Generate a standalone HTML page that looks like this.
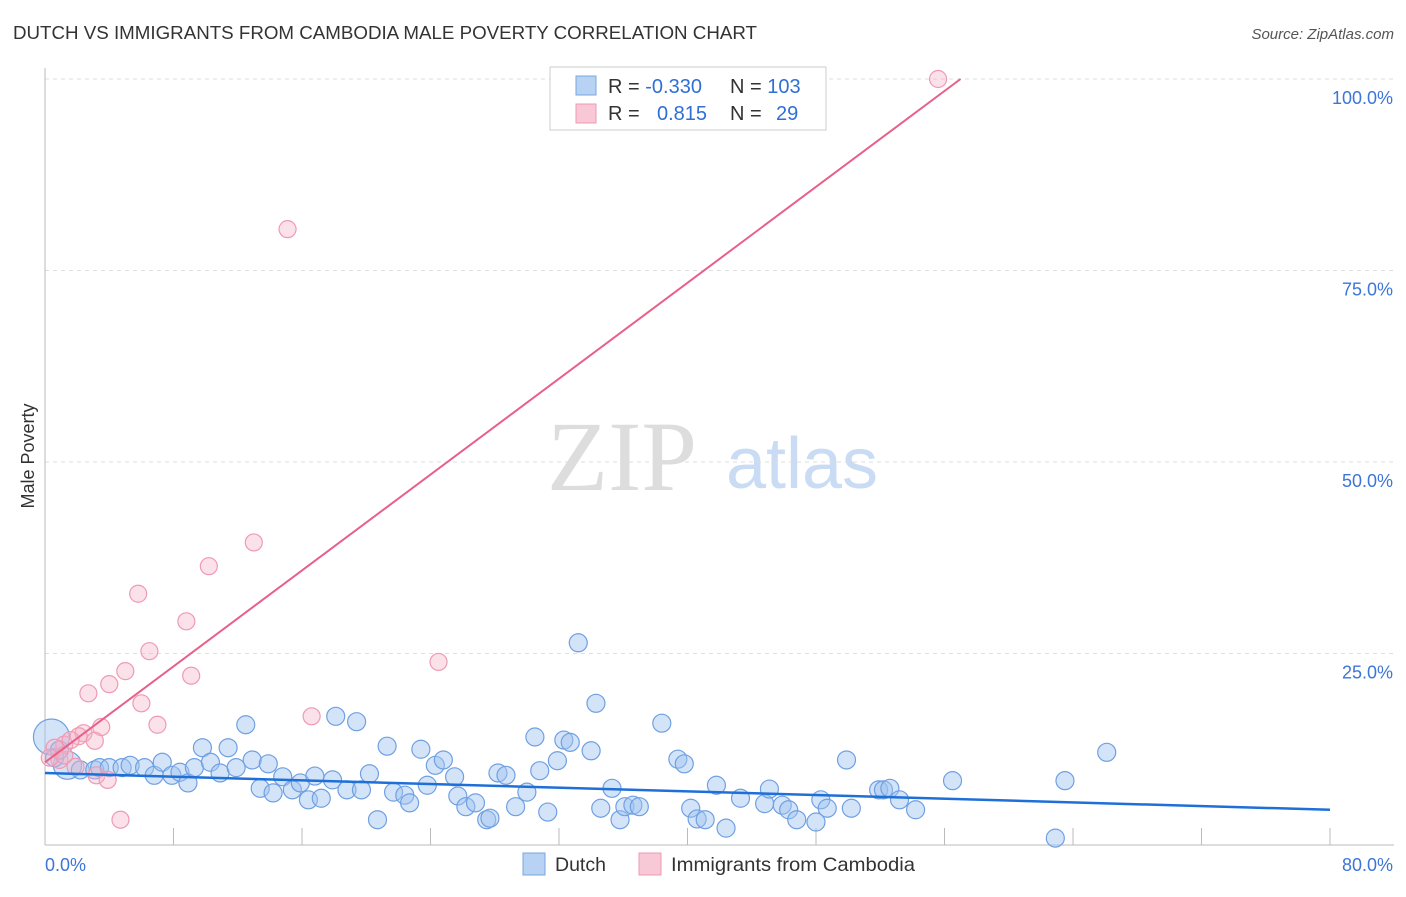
<!DOCTYPE html>
<html><head><meta charset="utf-8"><style>
body{margin:0;background:#fff;font-family:"Liberation Sans",sans-serif}
</style></head><body>
<svg id="chart" width="1406" height="892" viewBox="0 0 1406 892" xmlns="http://www.w3.org/2000/svg" font-family="Liberation Sans, sans-serif">
<text x="13" y="39" font-size="18" fill="#333" textLength="744" lengthAdjust="spacingAndGlyphs">DUTCH VS IMMIGRANTS FROM CAMBODIA MALE POVERTY CORRELATION CHART</text>
<text x="1394" y="39" font-size="15" fill="#555" text-anchor="end" font-style="italic">Source: ZipAtlas.com</text>
<text transform="translate(34,456) rotate(-90)" font-size="18" fill="#333" text-anchor="middle">Male Poverty</text>
<g>
<text x="622" y="490" font-size="100" fill="#ddd" text-anchor="middle" style="font-family:'Liberation Serif',serif">ZIP</text>
<text x="802" y="488" font-size="72" fill="#c9dcf3" text-anchor="middle">atlas</text>
</g>
<g id="grid"></g><g id="axes"></g><g id="marks"></g>
<g>
<rect x="550" y="67" width="276" height="63" fill="#fff" stroke="#ccc"/>
<rect x="576" y="76" width="20" height="19" fill="#b7d2f3" stroke="#7aa7e0"/>
<text x="608" y="93" font-size="20" fill="#333">R = <tspan fill="#2f6fd6">-0.330</tspan></text>
<text x="730" y="93" font-size="20" fill="#333">N = <tspan fill="#2f6fd6">103</tspan></text>
<rect x="576" y="104" width="20" height="19" fill="#f8c8d6" stroke="#ef9ab3"/>
<text x="608" y="120" font-size="20" fill="#333">R = </text><text x="657" y="120" font-size="20" fill="#2f6fd6">0.815</text>
<text x="730" y="120" font-size="20" fill="#333">N = </text><text x="776" y="120" font-size="20" fill="#2f6fd6">29</text>
</g>
<g>
<rect x="523" y="853" width="22" height="22" fill="#b7d2f3" stroke="#7aa7e0"/>
<text x="555" y="871" font-size="19.5" fill="#333">Dutch</text>
<rect x="639" y="853" width="22" height="22" fill="#f8c8d6" stroke="#ef9ab3"/>
<text x="671" y="871" font-size="19.5" fill="#333" textLength="244" lengthAdjust="spacingAndGlyphs">Immigrants from Cambodia</text>
</g>
</svg>
<script>
const blueX=[0.4,1.4,0.6,0.9,2.2,3.1,3.4,4.0,4.8,5.3,6.2,6.8,7.3,7.9,8.4,8.9,9.3,9.8,10.3,10.9,11.4,11.9,12.5,12.9,13.4,13.9,14.2,14.8,15.4,15.9,16.4,16.8,17.2,17.9,18.1,18.8,19.4,19.7,20.2,20.7,21.3,21.7,22.4,22.7,23.4,23.8,24.3,24.8,25.5,25.7,26.2,26.8,27.5,27.7,28.2,28.7,29.3,30.0,30.5,30.8,31.3,31.9,32.3,32.7,33.2,34.0,34.3,34.6,35.3,35.8,36.1,36.6,37.0,38.4,39.4,39.8,40.2,40.6,41.1,41.8,42.4,43.3,44.8,45.1,45.9,46.3,46.8,48.0,48.3,48.7,49.9,50.2,51.9,52.2,52.6,53.2,54.2,56.5,62.9,63.5,66.1];
const blueY=[14.1,10.4,11.4,12.4,9.8,9.8,10.1,10.1,10.1,10.4,10.1,9.1,10.8,9.1,9.5,8.1,10.1,12.7,10.8,9.4,12.7,10.1,15.7,11.1,7.4,10.6,6.8,8.9,7.2,8.1,5.9,9.0,6.1,8.5,16.8,7.2,16.1,7.2,9.3,3.3,12.9,6.9,6.5,5.5,12.5,7.8,10.4,11.1,8.9,6.4,5.0,5.5,3.3,3.5,9.4,9.1,5.0,6.9,14.1,9.7,4.3,11.0,13.7,13.4,26.4,12.3,18.5,4.8,7.4,3.3,5.0,5.2,5.0,15.9,11.2,10.6,4.8,3.4,3.3,7.8,2.2,6.1,5.4,7.3,5.2,4.6,3.3,3.0,5.9,4.8,11.1,4.8,7.2,7.2,7.4,5.9,4.6,8.4,0.9,8.4,12.1];
const pinkX=[55.6,15.1,13.0,10.2,5.8,8.8,6.5,5.0,9.1,4.0,2.7,6.0,16.6,7.0,3.5,2.4,2.1,3.1,1.2,1.6,0.6,0.9,1.9,3.2,3.9,4.7,24.5,0.3,1.2];
const pinkY=[100,80.4,39.5,36.4,32.8,29.2,25.3,22.7,22.1,21.0,19.8,18.5,16.8,15.7,15.4,14.6,14.2,13.6,13.1,13.7,12.7,11.1,10.2,9.1,8.5,3.3,23.9,11.4,11.7];
const blueTrend=[[0,9.4],[80,4.6]];
const pinkTrend=[[0,10.8],[57.0,100]];
const yTicks=[25,50,75,100];
const yTickLabels=["25.0%","50.0%","75.0%","100.0%"];
const xTicks=[0,8,16,24,32,40,48,56,64,72,80];
const NS="http://www.w3.org/2000/svg";
const xs=v=>45+v*1285/80, ys=v=>845-v*7.66;
function mk(p,t,a){const e=document.createElementNS(NS,t);for(const k in a)e.setAttribute(k,a[k]);p.appendChild(e);return e;}
const grid=document.getElementById('grid'),axes=document.getElementById('axes'),marks=document.getElementById('marks');
yTicks.forEach((v,i)=>{
 const l=mk(grid,'line',{x1:45,x2:1394,y1:ys(v),y2:ys(v),stroke:'#ddd','stroke-dasharray':'4,4'});
 
 
 const t=mk(axes,'text',{x:1393,y:ys(v)+25,'font-size':18,fill:'#3b76d8','text-anchor':'end'});t.textContent=yTickLabels[i];
 
 
});
const ya=mk(axes,'line',{x1:45,x2:45,y1:68,y2:845,stroke:'#bbb'});


const xa=mk(axes,'line',{x1:45,x2:1394,y1:845,y2:845,stroke:'#bbb'});


xTicks.forEach(v=>{const t=mk(axes,'line',{x1:xs(v),x2:xs(v),y1:828,y2:845,stroke:'#bbb'});
 
 });
[["0.0%",45,'start'],["80.0%",1393,'end']].forEach(([s,x,a])=>{const t=mk(axes,'text',{x:x,y:871,'font-size':18,fill:'#3b76d8','text-anchor':a});t.textContent=s;
 
 });
blueX.forEach((x,i)=>{const r=i==0?18:(i==1?14:9);const c=mk(marks,'circle',{cx:xs(x),cy:ys(blueY[i]),r:r,fill:'rgba(160,196,240,0.45)',stroke:'#6fa0e2','stroke-width':1.2});
 
 });
pinkX.forEach((x,i)=>{const c=mk(marks,'circle',{cx:xs(x),cy:ys(pinkY[i]),r:8.5,fill:'rgba(246,180,200,0.4)',stroke:'#ef9ab3','stroke-width':1.2});
 
 });
const bl=mk(marks,'line',{x1:xs(blueTrend[0][0]),y1:ys(blueTrend[0][1]),x2:xs(blueTrend[1][0]),y2:ys(blueTrend[1][1]),stroke:'#1f6fd8','stroke-width':2.5});


const pl=mk(marks,'line',{x1:xs(pinkTrend[0][0]),y1:ys(pinkTrend[0][1]),x2:xs(pinkTrend[1][0]),y2:ys(pinkTrend[1][1]),stroke:'#e8608a','stroke-width':2});


</script>
</body></html>
